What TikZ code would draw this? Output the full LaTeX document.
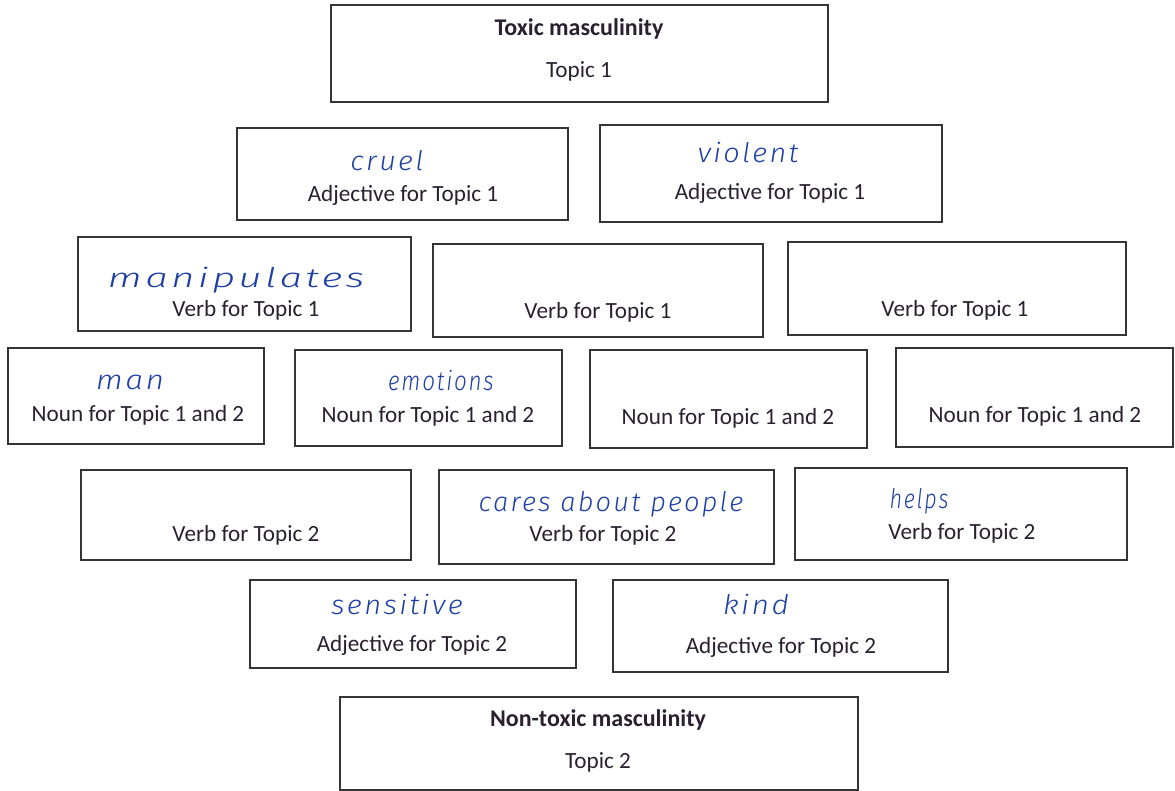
\documentclass[tikz,border=0pt]{standalone}
\usepackage{fontspec}
\setmainfont{Carlito}
\newfontfamily\handfont{Fira Sans}[UprightFont=* Light, ItalicFont=* Light Italic, LetterSpace=8]
\definecolor{ink}{HTML}{2A2030}
\definecolor{pen}{HTML}{1E3FA6}
\definecolor{edge}{HTML}{353535}
\tikzset{
  box/.style={draw=edge, line width=1.6pt, rectangle, inner sep=0pt},
  lbl/.style={text=ink, font=\fontsize{23.2}{27}\selectfont, inner sep=0pt, anchor=center},
  head/.style={text=ink, font=\fontsize{24}{28}\selectfont\bfseries, inner sep=0pt, anchor=center},
  hand/.style={text=pen, font=\handfont\itshape\fontsize{27}{30}\selectfont, inner sep=0pt, anchor=base},
}
\newcommand{\hw}[2]{\scalebox{#1}[1]{#2}}
\begin{document}
\begin{tikzpicture}[x=1pt,y=-1pt]
\useasboundingbox (0,0) rectangle (1175,791);
% boxes
\node[box, minimum width=497pt, minimum height=97pt] (top) at (579.5,53.5) {};
\node[box, minimum width=331pt, minimum height=92pt] (adj1a) at (402.5,174) {};
\node[box, minimum width=342pt, minimum height=97pt] (adj1b) at (771,173.5) {};
\node[box, minimum width=333pt, minimum height=94pt] (verb1a) at (244.5,284) {};
\node[box, minimum width=330pt, minimum height=93pt] (verb1b) at (598,290.5) {};
\node[box, minimum width=338pt, minimum height=93pt] (verb1c) at (957,288.5) {};
\node[box, minimum width=256pt, minimum height=96pt] (noun1) at (136,396) {};
\node[box, minimum width=267pt, minimum height=96pt] (noun2) at (428.5,398) {};
\node[box, minimum width=277pt, minimum height=98pt] (noun3) at (728.5,399) {};
\node[box, minimum width=277pt, minimum height=99pt] (noun4) at (1034.5,397.5) {};
\node[box, minimum width=330pt, minimum height=90pt] (verb2a) at (246,515) {};
\node[box, minimum width=335pt, minimum height=94pt] (verb2b) at (606.5,517) {};
\node[box, minimum width=332pt, minimum height=92pt] (verb2c) at (961,514) {};
\node[box, minimum width=326pt, minimum height=88pt] (adj2a) at (413,624) {};
\node[box, minimum width=335pt, minimum height=92pt] (adj2b) at (780.5,626) {};
\node[box, minimum width=518pt, minimum height=93pt] (bot) at (599,743.5) {};
% printed text
\node[head] (topH) at (579,29) {Toxic masculinity};
\node[lbl] (topT) at (579,71) {Topic 1};
\node[lbl] (adj1aL) at (403,195) {Adjective for Topic 1};
\node[lbl] (adj1bL) at (770,193) {Adjective for Topic 1};
\node[lbl] (verb1aL) at (246,310) {Verb for Topic 1};
\node[lbl] (verb1bL) at (598,312) {Verb for Topic 1};
\node[lbl] (verb1cL) at (955,310) {Verb for Topic 1};
\node[lbl] (noun1L) at (138,415) {Noun for Topic 1 and 2};
\node[lbl] (noun2L) at (428,416) {Noun for Topic 1 and 2};
\node[lbl] (noun3L) at (728,418) {Noun for Topic 1 and 2};
\node[lbl] (noun4L) at (1035,416) {Noun for Topic 1 and 2};
\node[lbl] (verb2aL) at (246,535) {Verb for Topic 2};
\node[lbl] (verb2bL) at (603,535) {Verb for Topic 2};
\node[lbl] (verb2cL) at (962,533) {Verb for Topic 2};
\node[lbl] (adj2aL) at (412,645) {Adjective for Topic 2};
\node[lbl] (adj2bL) at (781,647) {Adjective for Topic 2};
\node[head] (botH) at (598,720) {Non-toxic masculinity};
\node[lbl] (botT) at (598,762) {Topic 2};
% handwritten answers (anchored at baseline)
\node[hand] (w1) at (387,171) {\hw{1.07}{cruel}};
\node[hand] (w2) at (748,163) {\hw{1.07}{violent}};
\node[hand] (w3) at (236,288) {\hw{1.5}{manipulates}};
\node[hand] (w4) at (130,389) {\hw{1.18}{man}};
\node[hand] (w5) at (441,390) {\hw{0.83}{emotions}};
\node[hand] (w6) at (611,511) {\hw{1.01}{cares about people}};
\node[hand] (w7) at (919,508) {\hw{0.8}{helps}};
\node[hand] (w8) at (397,614) {\hw{1.08}{sensitive}};
\node[hand] (w9) at (756,614) {\hw{1.12}{kind}};
\end{tikzpicture}
\end{document}
